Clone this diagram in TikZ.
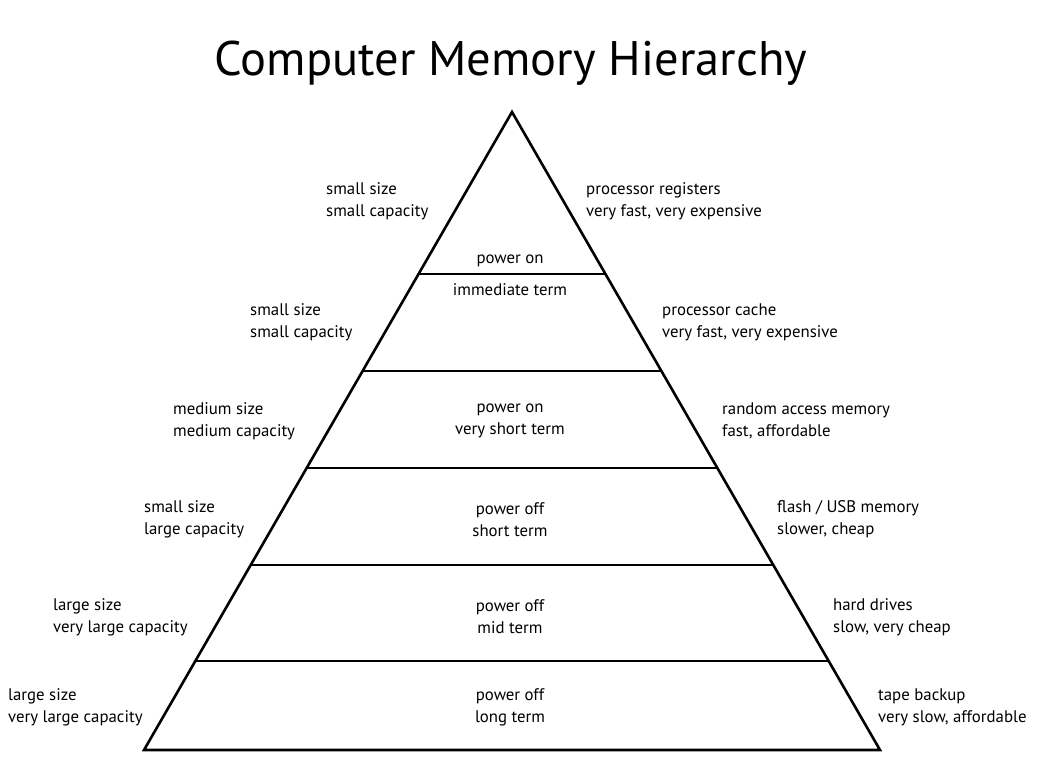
\documentclass[tikz,border=0pt]{standalone}
\usepackage{fontspec}
\setmainfont{PT Sans}
\begin{document}
\begin{tikzpicture}[x=1pt,y=-1pt,
  lbl/.style={font=\fontsize{16.8}{21.8}\selectfont, align=left, anchor=west, inner sep=0pt},
  mid/.style={font=\fontsize{16.8}{21.8}\selectfont, anchor=center, inner sep=0pt},
  edge/.style={line width=2.6pt, line join=miter}]
\useasboundingbox (0,0) rectangle (1041,761);
\node[font=\fontsize{48.5}{56}\selectfont, inner sep=0pt] (title) at (511,63) {Computer Memory Hierarchy};
% pyramid
\coordinate (apex) at (512,112);
\coordinate (bl) at (144,750);
\coordinate (br) at (880,750);
\draw[edge] (apex) -- (br) -- (bl) -- cycle;
\foreach \y in {274,371,468,565,661}{
  \draw[line width=2.6pt] ({512-(\y-112)*0.5768},\y) -- ({512+(\y-112)*0.5768},\y);
}
% left labels
\node[lbl] (l1) at (326,201) {small size\\small capacity};
\node[lbl] (l2) at (250,322.5) {small size\\small capacity};
\node[lbl] (l3) at (173,421) {medium size\\medium capacity};
\node[lbl] (l4) at (144,519.5) {small size\\large capacity};
\node[lbl] (l5) at (53,617) {large size\\very large capacity};
\node[lbl] (l6) at (8,707) {large size\\very large capacity};
% right labels
\node[lbl] (r1) at (586,201) {processor registers\\very fast, very expensive};
\node[lbl] (r2) at (662,322.5) {processor cache\\very fast, very expensive};
\node[lbl] (r3) at (722,421) {random access memory\\fast, affordable};
\node[lbl] (r4) at (777,519.5) {flash / USB memory\\slower, cheap};
\node[lbl] (r5) at (833,617) {hard drives\\slow, very cheap};
\node[lbl] (r6) at (878,707) {tape backup\\very slow, affordable};
% middle labels
\node[mid] (m1a) at (510,261) {power on};
\node[mid] (m1b) at (510,290) {immediate term};
\node[mid, align=center] (m3) at (510,421) {power on\\very short term};
\node[mid, align=center] (m4) at (510,519.5) {power off\\short term};
\node[mid, align=center] (m5) at (510,617) {power off\\mid term};
\node[mid, align=center] (m6) at (510,707) {power off\\long term};
\end{tikzpicture}
\end{document}
